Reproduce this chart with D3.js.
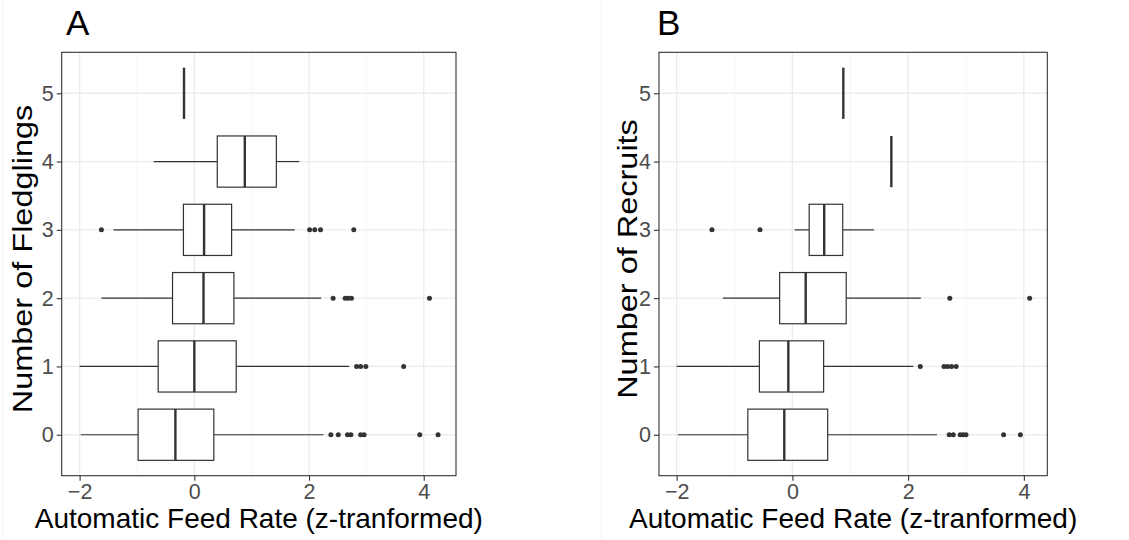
<!DOCTYPE html>
<html>
<head>
<meta charset="utf-8">
<script src="https://cdn.jsdelivr.net/npm/d3@7"></script>
<style>
  body { margin: 0; background: #fff; }
  svg { display: block; font-family: "Liberation Sans", Arial, sans-serif; }
</style>
</head>
<body>
<svg id="chart" width="1129" height="540"></svg>
<script>
// categories (number of fledglings / recruits)
var groups = [0, 1, 2, 3, 4, 5];
var xTicks = [-2, 0, 2, 4];
var xMinor = [-1, 1, 3];

// panel A : fledglings
var fledgLo  = [-1.98, -2.00, -1.62, -1.41, -0.71, -0.18];
var fledgQ1  = [-0.98, -0.63, -0.38, -0.19,  0.40, -0.18];
var fledgMed = [-0.33,  0.00,  0.16,  0.17,  0.88, -0.18];
var fledgQ3  = [ 0.34,  0.73,  0.69,  0.65,  1.43, -0.18];
var fledgHi  = [ 2.25,  2.70,  2.21,  1.75,  1.83, -0.18];
var fledgOut = [
  [2.38, 2.51, 2.67, 2.73, 2.90, 2.96, 3.93, 4.25],
  [2.83, 2.90, 2.99, 3.65],
  [2.42, 2.63, 2.68, 2.74, 4.10],
  [-1.62, 2.01, 2.10, 2.20, 2.78],
  [],
  []
];

// panel B : recruits
var recLo  = [-1.98, -2.00, -1.20, 0.04, 1.71, 0.88];
var recQ1  = [-0.77, -0.57, -0.22, 0.29, 1.71, 0.88];
var recMed = [-0.14, -0.07,  0.23, 0.55, 1.71, 0.88];
var recQ3  = [ 0.61,  0.54,  0.93, 0.87, 1.71, 0.88];
var recHi  = [ 2.50,  2.09,  2.22, 1.41, 1.71, 0.88];
var recOut = [
  [2.71, 2.78, 2.90, 2.95, 3.00, 3.65, 3.94],
  [2.21, 2.62, 2.68, 2.75, 2.83],
  [2.72, 4.10],
  [-1.39, -0.56],
  [],
  []
];

var svg = d3.select("#chart");
var dark = "#333333";

// faint edges of the original image tiles
[2.5, 601.5].forEach(function(x) {
  svg.append("line").attr("x1", x).attr("x2", x).attr("y1", 0).attr("y2", 540)
    .attr("stroke", "#f3f3f3").attr("stroke-width", 1);
});

function drawPanel(opt) {
  var left = opt.left, right = opt.right, top = 52.3, bottom = 475.7;

  // x domain like ggplot: data range + 5% each side
  var all = opt.lo.concat(opt.hi);
  opt.out.forEach(function(o) { all = all.concat(o); });
  var ext = d3.extent(all), pad = (ext[1] - ext[0]) * 0.05;
  var x = d3.scaleLinear().domain([ext[0] - pad, ext[1] + pad]).range([left, right]);
  var y = d3.scaleLinear().domain([-0.6, 5.6]).range([bottom, top]);

  var g = svg.append("g");

  // grid
  g.selectAll(".minor").data(xMinor).enter().append("line")
    .attr("x1", d => x(d)).attr("x2", d => x(d)).attr("y1", top).attr("y2", bottom)
    .attr("stroke", "#f2f2f2").attr("stroke-width", 0.8);
  g.selectAll(".majx").data(xTicks).enter().append("line")
    .attr("x1", d => x(d)).attr("x2", d => x(d)).attr("y1", top).attr("y2", bottom)
    .attr("stroke", "#ebebeb").attr("stroke-width", 1.3);
  g.selectAll(".majy").data(groups).enter().append("line")
    .attr("x1", left).attr("x2", right).attr("y1", d => y(d)).attr("y2", d => y(d))
    .attr("stroke", "#ebebeb").attr("stroke-width", 1.3);

  var half = 0.375;
  groups.forEach(function(gr, i) {
    var cy = y(gr);
    var bg = g.append("g");
    // whiskers
    bg.append("line").attr("x1", x(opt.lo[i])).attr("x2", x(opt.q1[i]))
      .attr("y1", cy).attr("y2", cy).attr("stroke", dark).attr("stroke-width", 1.2);
    bg.append("line").attr("x1", x(opt.q3[i])).attr("x2", x(opt.hi[i]))
      .attr("y1", cy).attr("y2", cy).attr("stroke", dark).attr("stroke-width", 1.2);
    // box
    if (opt.q3[i] > opt.q1[i]) {
      bg.append("rect").attr("x", x(opt.q1[i])).attr("y", y(gr + half))
        .attr("width", x(opt.q3[i]) - x(opt.q1[i])).attr("height", y(gr - half) - y(gr + half))
        .attr("fill", "#fff").attr("stroke", dark).attr("stroke-width", 1.2);
    }
    // median
    bg.append("line").attr("x1", x(opt.med[i])).attr("x2", x(opt.med[i]))
      .attr("y1", y(gr + half)).attr("y2", y(gr - half))
      .attr("stroke", dark).attr("stroke-width", 2.4);
    // outliers
    bg.selectAll("circle").data(opt.out[i]).enter().append("circle")
      .attr("cx", d => x(d)).attr("cy", cy).attr("r", 2.5).attr("fill", dark);
  });

  // border
  g.append("rect").attr("x", left).attr("y", top).attr("width", right - left).attr("height", bottom - top)
    .attr("fill", "none").attr("stroke", dark).attr("stroke-width", 1.1);

  // axes
  var xa = g.append("g").attr("transform", "translate(0," + bottom + ")")
    .call(d3.axisBottom(x).tickValues(xTicks).tickSize(5).tickPadding(3).tickFormat(d3.format("d")));
  var ya = g.append("g").attr("transform", "translate(" + left + ",0)")
    .call(d3.axisLeft(y).tickValues(groups).tickSize(5).tickPadding(3).tickFormat(d3.format("d")));
  [xa, ya].forEach(function(a) {
    a.select(".domain").remove();
    a.selectAll(".tick line").attr("stroke", dark).attr("stroke-width", 1.1);
    a.selectAll(".tick text").attr("fill", "#4d4d4d").style("font-size", "21.5px")
      .style("font-family", "Liberation Sans, Arial, sans-serif");
  });
  xa.selectAll(".tick text").attr("dy", "0.7em");

  // titles
  svg.append("text").attr("x", opt.tagX).attr("y", 35).text(opt.tag)
    .style("font-size", "35px").attr("fill", "#000");
  svg.append("text").attr("x", (left + right) / 2).attr("y", 528).attr("text-anchor", "middle")
    .text("Automatic Feed Rate (z-tranformed)").style("font-size", "28px").attr("fill", "#000");
  svg.append("text")
    .attr("transform", "translate(" + opt.yTitleX + ",259) rotate(-90) scale(1.16,1)")
    .attr("text-anchor", "middle").text(opt.yTitle).style("font-size", "28px").attr("fill", "#000");
}

drawPanel({
  left: 61.7, right: 456, lo: fledgLo, q1: fledgQ1, med: fledgMed, q3: fledgQ3, hi: fledgHi, out: fledgOut,
  tag: "A", tagX: 66, yTitle: "Number of Fledglings", yTitleX: 32
});
drawPanel({
  left: 659, right: 1047.3, lo: recLo, q1: recQ1, med: recMed, q3: recQ3, hi: recHi, out: recOut,
  tag: "B", tagX: 657, yTitle: "Number of Recruits", yTitleX: 637
});
</script>
</body>
</html>
